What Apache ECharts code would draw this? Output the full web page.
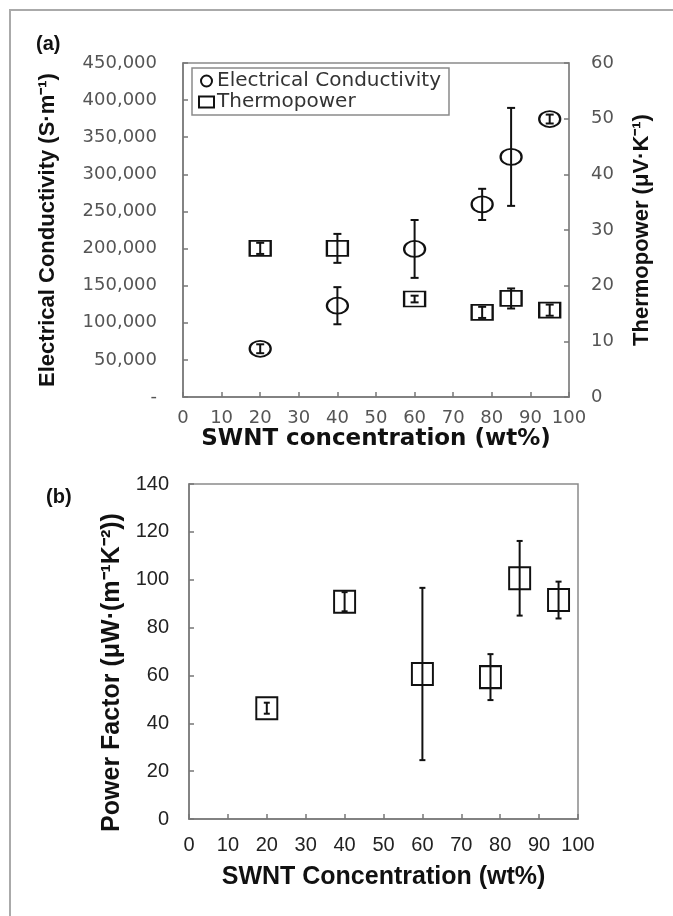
<!DOCTYPE html>
<html>
<head>
<meta charset="utf-8">
<script src="https://cdn.jsdelivr.net/npm/echarts@6/dist/echarts.min.js"></script>
<style>
html,body{margin:0;padding:0;background:#fff;}
#chart{width:673px;height:916px;}
</style>
</head>
<body>
<div id="chart"></div>
<script>
// ---- data ----
const swntA = [20, 40, 60, 77.5, 85, 95];
const conductivity = [65000, 123000, 199500, 259500, 323500, 374500];
const conductivityErr = [6000, 25000, 39000, 21000, 66000, 6000];
const thermopower = [26.7, 26.7, 17.6, 15.2, 17.7, 15.6];
const thermopowerErr = [1.0, 2.6, 0.6, 1.0, 1.8, 1.0];

const swntB = [20, 40, 60, 77.5, 85, 95];
const powerFactor = [46.3, 90.8, 60.6, 59.3, 100.6, 91.5];
const powerFactorErr = [2.3, 4.0, 36.0, 9.6, 15.6, 7.7];

const xTicks = [0, 100, 10];          // min, max, interval
const condTicks = [0, 450000, 50000];
const tpTicks = [0, 60, 10];
const pfTicks = [0, 140, 20];

// ---- helpers ----
function pts(xs, ys) { return xs.map((x, i) => [x, ys[i]]); }
function errPts(xs, ys, es) { return xs.map((x, i) => [x, ys[i], es[i]]); }
function errRender(cap) {
  return function (params, api) {
    const x = api.value(0), y = api.value(1), e = api.value(2);
    const t = api.coord([x, y + e]);
    const b = api.coord([x, y - e]);
    const st = { stroke: '#111', lineWidth: 2 };
    return {
      type: 'group',
      children: [
        { type: 'line', shape: { x1: t[0], y1: t[1], x2: b[0], y2: b[1] }, style: st },
        { type: 'line', shape: { x1: t[0] - cap, y1: t[1], x2: t[0] + cap, y2: t[1] }, style: st },
        { type: 'line', shape: { x1: b[0] - cap, y1: b[1], x2: b[0] + cap, y2: b[1] }, style: st }
      ]
    };
  };
}

const frameGray = '#8a8a8a';
const fontA = 'DejaVu Sans';
const fontB = 'Liberation Sans';

function xAxisCfg(grid, name, opts) {
  return Object.assign({
    gridIndex: grid, type: 'value', min: xTicks[0], max: xTicks[1], interval: xTicks[2],
    name: name, nameLocation: 'middle',
    axisLine: { show: true, onZero: false, lineStyle: { color: '#777', width: 1.5 } },
    axisTick: { show: true, inside: true, length: 5, lineStyle: { color: '#777', width: 1.5 } },
    splitLine: { show: false }
  }, opts);
}

const option = {
  backgroundColor: '#fff',
  animation: false,
  graphic: [
    { type: 'rect', shape: { x: 10, y: 10, width: 720, height: 960 },
      style: { fill: 'none', stroke: '#aaa', lineWidth: 2 } },
    { type: 'text', left: 36, top: 34,
      style: { text: '(a)', font: 'bold 20px "Liberation Sans"', fill: '#111' } },
    { type: 'text', left: 46, top: 487,
      style: { text: '(b)', font: 'bold 20px "Liberation Sans"', fill: '#111' } }
  ],
  grid: [
    { left: 183, top: 63, width: 386, height: 334, show: true, borderColor: frameGray, borderWidth: 1.5, backgroundColor: 'transparent' },
    { left: 189, top: 484, width: 389, height: 335, show: true, borderColor: frameGray, borderWidth: 1.5, backgroundColor: 'transparent' }
  ],
  legend: {
    data: ['Electrical Conductivity', 'Thermopower'],
    orient: 'vertical', left: 192, top: 68,
    itemWidth: 15, itemHeight: 11, itemGap: 1,
    padding: [3, 8, 3, 6],
    borderColor: frameGray, borderWidth: 1.5, backgroundColor: '#fff',
    textStyle: { fontFamily: fontA, fontSize: 20, color: '#333', padding: [0, 0, 0, -2] }
  },
  xAxis: [
    xAxisCfg(0, 'SWNT concentration (wt%)', {
      nameGap: 31,
      nameTextStyle: { fontFamily: fontA, fontWeight: 'bold', fontSize: 23, color: '#111' },
      axisLabel: { margin: 12, fontFamily: fontA, fontSize: 18, color: '#555' }
    }),
    xAxisCfg(1, 'SWNT Concentration (wt%)', {
      nameGap: 46,
      nameTextStyle: { fontFamily: fontB, fontWeight: 'bold', fontSize: 25, color: '#111' },
      axisLabel: { margin: 16, fontFamily: fontB, fontSize: 20, color: '#222' }
    })
  ],
  yAxis: [
    {
      gridIndex: 0, type: 'value', position: 'left',
      min: condTicks[0], max: condTicks[1], interval: condTicks[2],
      name: 'Electrical Conductivity (S·m⁻¹)', nameLocation: 'middle', nameGap: 124, nameRotate: 90,
      nameTextStyle: { fontFamily: fontB, fontWeight: 'bold', fontSize: 22, color: '#111' },
      axisLine: { show: true, lineStyle: { color: '#777', width: 1.5 } },
      axisTick: { show: true, inside: true, length: 5, lineStyle: { color: '#777', width: 1.5 } },
      axisLabel: { margin: 26, fontFamily: fontA, fontSize: 18, color: '#555',
        formatter: v => v === 0 ? '-' : v.toLocaleString('en-US') },
      splitLine: { show: false }
    },
    {
      gridIndex: 0, type: 'value', position: 'right',
      min: tpTicks[0], max: tpTicks[1], interval: tpTicks[2],
      name: 'Thermopower (μV·K⁻¹)', nameLocation: 'middle', nameGap: 62, nameRotate: 90,
      nameTextStyle: { fontFamily: fontB, fontWeight: 'bold', fontSize: 22, color: '#111' },
      axisLine: { show: true, lineStyle: { color: frameGray, width: 1.5 } },
      axisTick: { show: true, inside: true, length: 5, lineStyle: { color: '#777', width: 1.5 } },
      axisLabel: { margin: 22, fontFamily: fontA, fontSize: 18, color: '#555' },
      splitLine: { show: false }
    },
    {
      gridIndex: 1, type: 'value', position: 'left',
      min: pfTicks[0], max: pfTicks[1], interval: pfTicks[2],
      name: 'Power Factor (μW·(m⁻¹K⁻²))', nameLocation: 'middle', nameGap: 64, nameRotate: 90,
      nameTextStyle: { fontFamily: fontB, fontWeight: 'bold', fontSize: 25, color: '#111', padding: [0, 42, 0, 0] },
      axisLine: { show: true, lineStyle: { color: '#777', width: 1.5 } },
      axisTick: { show: true, inside: true, length: 5, lineStyle: { color: '#777', width: 1.5 } },
      axisLabel: { margin: 20, fontFamily: fontB, fontSize: 20, color: '#222' },
      splitLine: { show: false }
    }
  ],
  series: [
    { name: 'condErr', type: 'custom', xAxisIndex: 0, yAxisIndex: 0,
      renderItem: errRender(4), encode: { x: 0, y: 1 },
      data: errPts(swntA, conductivity, conductivityErr), z: 2 },
    { name: 'tpErr', type: 'custom', xAxisIndex: 0, yAxisIndex: 1,
      renderItem: errRender(4), encode: { x: 0, y: 1 },
      data: errPts(swntA, thermopower, thermopowerErr), z: 2 },
    { name: 'Electrical Conductivity', type: 'scatter', xAxisIndex: 0, yAxisIndex: 0,
      symbol: 'circle', symbolSize: [21, 16],
      itemStyle: { color: 'rgba(0,0,0,0)', borderColor: '#111', borderWidth: 2, opacity: 1 },
      data: pts(swntA, conductivity), z: 3 },
    { name: 'Thermopower', type: 'scatter', xAxisIndex: 0, yAxisIndex: 1,
      symbol: 'rect', symbolSize: [21, 15],
      itemStyle: { color: 'rgba(0,0,0,0)', borderColor: '#111', borderWidth: 2, opacity: 1 },
      data: pts(swntA, thermopower), z: 3 },
    { name: 'pfErr', type: 'custom', xAxisIndex: 1, yAxisIndex: 2,
      renderItem: errRender(3), encode: { x: 0, y: 1 },
      data: errPts(swntB, powerFactor, powerFactorErr), z: 2 },
    { name: 'Power Factor', type: 'scatter', xAxisIndex: 1, yAxisIndex: 2,
      symbol: 'rect', symbolSize: [21, 22],
      itemStyle: { color: 'rgba(0,0,0,0)', borderColor: '#111', borderWidth: 2, opacity: 1 },
      data: pts(swntB, powerFactor), z: 3 }
  ]
};

const chart = echarts.init(document.getElementById('chart'), null, { renderer: 'canvas' });
chart.setOption(option);
</script>
</body>
</html>
